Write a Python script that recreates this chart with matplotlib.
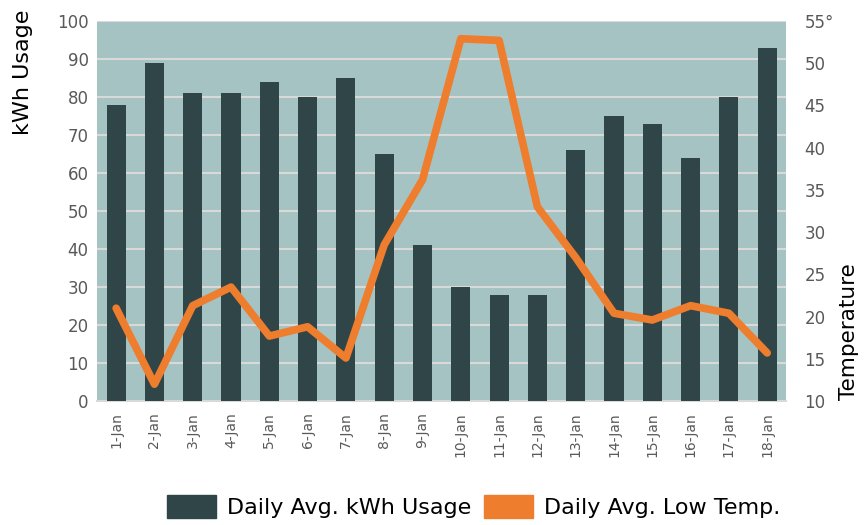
import matplotlib.pyplot as plt
from matplotlib.patches import Patch

days = ["1-Jan", "2-Jan", "3-Jan", "4-Jan", "5-Jan", "6-Jan", "7-Jan", "8-Jan", "9-Jan",
        "10-Jan", "11-Jan", "12-Jan", "13-Jan", "14-Jan", "15-Jan", "16-Jan", "17-Jan", "18-Jan"]
kwh = [78, 89, 81, 81, 84, 80, 85, 65, 41, 30, 28, 28, 66, 75, 73, 64, 80, 93]
low_temp = [21.0, 12.0, 21.3, 23.5, 17.7, 18.8, 15.1, 28.5, 36.2, 52.9, 52.7, 33.0,
            27.0, 20.4, 19.6, 21.3, 20.4, 15.7]

bar_color = "#2f4548"
line_color = "#ef7d2e"
bg_color = "#a5c3c2"
grid_color = "#d9d9d9"
tick_color = "#595959"

fig = plt.figure(figsize=(8.66, 5.25), dpi=100)
ax = fig.add_axes([0.112, 0.236, 0.796, 0.724])
ax.set_facecolor(bg_color)

x = range(len(days))
ax.bar(x, kwh, width=0.5, color=bar_color, zorder=3)
ax.set_xlim(-0.5, len(days) - 0.5)
ax.set_ylim(0, 100)
ax.set_yticks(range(0, 101, 10))
ax.grid(axis="y", color=grid_color, linewidth=1.5, zorder=1)
ax.set_axisbelow(True)
for s in ["left", "right", "top"]:
    ax.spines[s].set_visible(False)
ax.spines["bottom"].set_color(grid_color)
ax.spines["bottom"].set_linewidth(1.5)
ax.set_xticks(list(x))
ax.set_xticklabels(days, rotation=90, fontsize=10, color=tick_color)
ax.tick_params(axis="x", length=0, pad=8)
ax.tick_params(axis="y", length=0, labelsize=12, labelcolor=tick_color, pad=6)
ax.set_ylabel("kWh Usage", fontsize=16)
ax.yaxis.set_label_coords(-0.093, 0.866)

ax2 = ax.twinx()
ax2.plot(list(x), low_temp, color=line_color, linewidth=5.5,
         solid_capstyle="round", solid_joinstyle="round", zorder=4)
ax2.set_ylim(10, 55)
ax2.set_yticks(range(10, 56, 5))
ax2.set_yticklabels([str(v) for v in range(10, 55, 5)] + ["55°"])
for s in ax2.spines.values():
    s.set_visible(False)
ax2.tick_params(axis="y", length=0, labelsize=12, labelcolor=tick_color, pad=13)
ax2.set_ylabel("Temperature", fontsize=15.5)
ax2.yaxis.set_label_coords(1.077, 0.184)

handles = [Patch(color=bar_color, label="Daily Avg. kWh Usage"),
           Patch(color=line_color, label="Daily Avg. Low Temp.")]
fig.legend(handles=handles, loc="lower center", bbox_to_anchor=(0.547, -0.025), ncol=2,
           frameon=False, handlelength=2.2, handleheight=1.25,
           columnspacing=0.6, handletextpad=0.5,
           prop={"family": ["Liberation Sans Narrow", "DejaVu Sans"], "size": 16})

fig.savefig("out.png", dpi=100)
